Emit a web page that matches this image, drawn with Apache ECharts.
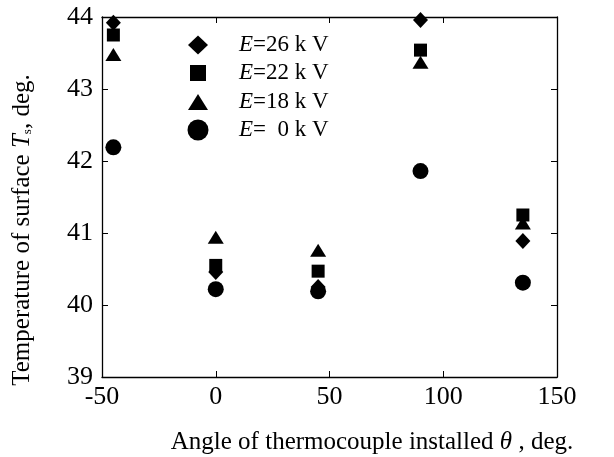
<!DOCTYPE html>
<html>
<head>
<meta charset="utf-8">
<script src="https://cdn.jsdelivr.net/npm/echarts@6/dist/echarts.min.js"></script>
<style>
html,body{margin:0;padding:0;background:#fff;}
#c{width:614px;height:457px;}
</style>
</head>
<body>
<div id="c"></div>
<script>
// Data
var angles = [-45, 0, 45, 90, 135];
var seriesNames = ['E=26 k V', 'E=22 k V', 'E=18 k V', 'E=  0 k V'];
var tempE26 = [43.92, 40.46, 40.25, 43.96, 40.89];
var tempE22 = [43.75, 40.55, 40.47, 43.54, 41.25];
var tempE18 = [43.48, 40.94, 40.76, 43.37, 41.14];
var tempE0  = [42.19, 40.22, 40.19, 41.86, 40.31];
var xTicks = [-50, 0, 50, 100, 150];
var yTicks = [39, 40, 41, 42, 43, 44];

var FONT = '"Liberation Serif", "DejaVu Serif", serif';

function pts(vals) {
  return angles.map(function (a, i) { return [a, vals[i]]; });
}

var symbols = ['diamond', 'rect', 'triangle', 'circle'];
var sizes = [[15, 16], 13, [16, 13], 16];
var allVals = [tempE26, tempE22, tempE18, tempE0];

var series = allVals.map(function (v, k) {
  return {
    name: seriesNames[k],
    type: 'scatter',
    symbol: symbols[k],
    symbolSize: sizes[k],
    itemStyle: { color: '#000', opacity: 1 },
    data: pts(v),
    z: 10 - k
  };
});

// legend: one component per series so each icon can have its own size
var legendIcon = [[20, 19], [16, 16], [20, 16], [21, 21]];
var legendRowY = [45, 73, 102, 130];
var legendCenterX = 198;
var legendTextX = 239;
var legends = seriesNames.map(function (nm, k) {
  var w = legendIcon[k][0], h = legendIcon[k][1];
  var left = legendCenterX - w / 2;
  var rowH = Math.max(h, 24);
  return {
    orient: 'vertical',
    left: left,
    top: legendRowY[k] - rowH / 2,
    padding: 0,
    itemWidth: w,
    itemHeight: h,
    selectedMode: false,
    data: [nm],
    formatter: function (name) { return '{i|E}' + name.slice(1); },
    textStyle: {
      fontFamily: FONT,
      fontSize: 23,
      color: '#000',
      lineHeight: 24,
      padding: [0, 0, 0, legendTextX - (left + w + 5)],
      rich: { i: { fontFamily: FONT, fontSize: 23, fontStyle: 'italic', color: '#000', lineHeight: 24 } }
    }
  };
});

var chart = echarts.init(document.getElementById('c'), null, { renderer: 'canvas' });

function axisCommon() {
  return {
    axisLine: { show: true, onZero: false, lineStyle: { color: '#000', width: 1.3 } },
    axisTick: { show: true, inside: true, length: 6, lineStyle: { color: '#000', width: 1 } },
    splitLine: { show: false }
  };
}

chart.setOption({
  animation: false,
  backgroundColor: '#fff',
  textStyle: { fontFamily: FONT },
  grid: { left: 102, right: 57, top: 17, bottom: 80, containLabel: false },
  legend: legends,
  xAxis: [
    Object.assign({
      type: 'value', min: xTicks[0], max: xTicks[xTicks.length - 1], interval: 50, position: 'bottom',
      axisLabel: { fontFamily: FONT, fontSize: 26, color: '#000', margin: 7 }
    }, axisCommon()),
    Object.assign({
      type: 'value', min: xTicks[0], max: xTicks[xTicks.length - 1], interval: 50, position: 'top',
      axisLabel: { show: false }
    }, axisCommon())
  ],
  yAxis: [
    Object.assign({
      type: 'value', min: yTicks[0], max: yTicks[yTicks.length - 1], interval: 1, position: 'left',
      axisLabel: { fontFamily: FONT, fontSize: 26, color: '#000', margin: 9 }
    }, axisCommon()),
    Object.assign({
      type: 'value', min: yTicks[0], max: yTicks[yTicks.length - 1], interval: 1, position: 'right',
      axisLabel: { show: false }
    }, axisCommon())
  ],
  graphic: [
    {
      type: 'text',
      x: 372, y: 442,
      style: {
        text: 'Angle of thermocouple installed {i|θ} , deg.',
        font: '25px ' + FONT,
        fill: '#000',
        align: 'center',
        verticalAlign: 'middle',
        rich: { i: { fontStyle: 'italic', fontSize: 25, fontFamily: FONT } }
      }
    },
    {
      type: 'text',
      x: 22, y: 230,
      rotation: Math.PI / 2,
      style: {
        text: 'Temperature of surface {i|T}{s|s}, deg.',
        font: '25px ' + FONT,
        fill: '#000',
        align: 'center',
        verticalAlign: 'middle',
        rich: {
          i: { fontStyle: 'italic', fontSize: 25, fontFamily: FONT },
          s: { fontSize: 13, fontFamily: FONT, verticalAlign: 'bottom', padding: [8, 0, 0, 0] }
        }
      }
    }
  ],
  series: series
});
</script>
</body>
</html>
